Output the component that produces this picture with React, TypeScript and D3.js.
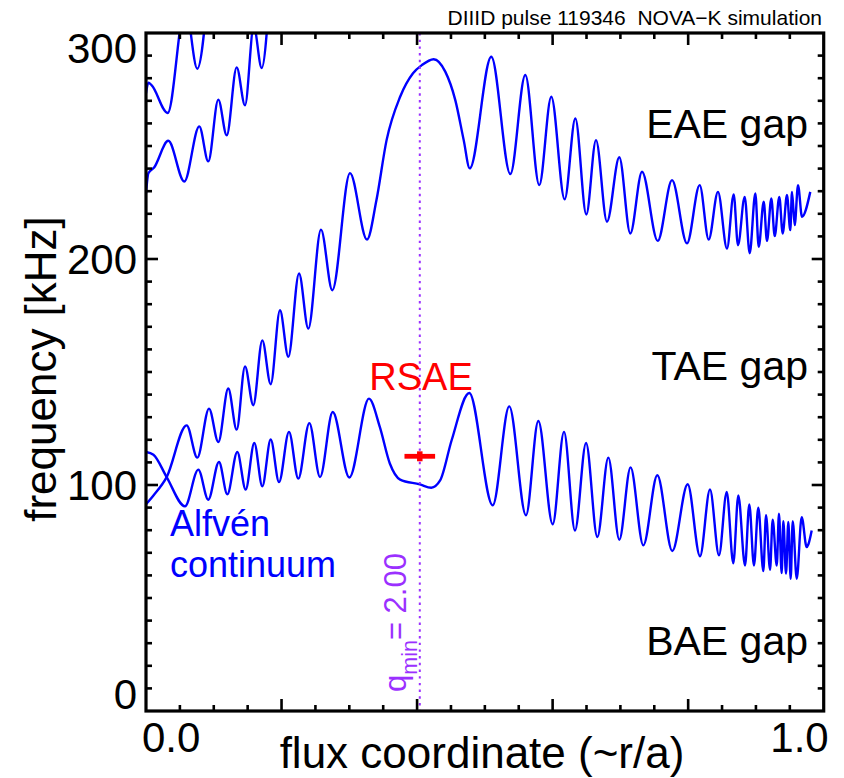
import React from "react";
import * as d3 from "d3";

const W = 844;
const H = 778;
const plot = { left: 146, right: 823.7, top: 33, bottom: 711 };
const FONT = "'Liberation Sans', Arial, Helvetica, sans-serif";

// Alfvén continuum branches, sampled at their turning points: [r/a, frequency kHz]
const lowerBranch: [number, number][] = [
  [0, 114.6], [0.011, 113.4], [0.0305, 103.5], [0.0575, 90.6], [0.0772, 106.8],
  [0.0919, 93.5], [0.1077, 110.2], [0.12, 95.9], [0.1347, 114.6], [0.1471, 98.0],
  [0.1598, 118.6], [0.1716, 99.4], [0.184, 120.1], [0.1963, 101.3], [0.211, 123.5],
  [0.2247, 102.8], [0.241, 127.4], [0.2568, 103.5], [0.2755, 132.3], [0.3, 103.3],
  [0.329, 138.2], [0.345, 125.7], [0.3598, 109.5], [0.375, 102.4], [0.404, 100.3],
  [0.421, 98.8], [0.434, 102.0], [0.451, 119.8], [0.477, 140.7], [0.5116, 91.0],
  [0.536, 134.8], [0.5607, 86.6], [0.5789, 128.3], [0.6001, 82.6], [0.6168, 123.5],
  [0.633, 79.9], [0.6493, 118.6], [0.666, 77.0], [0.6822, 112.1], [0.6984, 75.8],
  [0.715, 107.8], [0.7338, 73.3], [0.7545, 104.3], [0.7766, 70.8], [0.7993, 100.3],
  [0.8175, 68.5], [0.8322, 98.0], [0.8455, 68.9], [0.8569, 96.9], [0.8666, 65.4],
  [0.874, 95.4], [0.8839, 64.4], [0.8902, 91.4], [0.8971, 64.4], [0.9035, 90.0],
  [0.9109, 61.9], [0.9149, 86.6], [0.9208, 62.5], [0.9247, 84.7], [0.9307, 64.4],
  [0.934, 87.3], [0.938, 61.0], [0.9404, 84.0], [0.9444, 60.8], [0.9478, 83.6],
  [0.9513, 58.5], [0.9543, 84.0], [0.9602, 58.5], [0.9675, 85.8], [0.9749, 72.5],
  [0.9773, 73.7], [0.9823, 79.9],
];

const upperBranch: [number, number][] = [
  [0, 91.5], [0.011, 95.4], [0.0305, 103.5], [0.06, 126.4], [0.0757, 112.1],
  [0.093, 133.8], [0.1067, 119.0], [0.1214, 142.7], [0.1338, 124.5], [0.1461, 152.5],
  [0.1583, 135.3], [0.1716, 164.0], [0.184, 144.6], [0.1977, 177.3], [0.21, 156.7],
  [0.2258, 193.6], [0.2395, 169.2], [0.2582, 213.0], [0.2749, 186.2], [0.301, 238.0],
  [0.3261, 208.6], [0.34, 226.0], [0.355, 252.6], [0.375, 271.8], [0.394, 282.2],
  [0.407, 285.8], [0.4245, 288.4], [0.4416, 282.9], [0.4564, 270.3], [0.4688, 252.6],
  [0.4777, 240.1], [0.5095, 289.5], [0.5376, 237.6], [0.5597, 281.4], [0.5803, 232.7],
  [0.598, 271.8], [0.6178, 226.4], [0.6335, 262.2], [0.6497, 219.7], [0.664, 252.6],
  [0.6802, 216.5], [0.6984, 245.0], [0.7146, 211.3], [0.7319, 238.6], [0.7551, 208.0],
  [0.7762, 234.9], [0.7983, 206.9], [0.817, 232.7], [0.8303, 208.6], [0.844, 229.7],
  [0.8573, 204.6], [0.8672, 228.6], [0.8735, 206.1], [0.8834, 227.5], [0.8908, 202.5],
  [0.8991, 229.0], [0.9041, 205.4], [0.9115, 225.3], [0.9163, 208.0], [0.9227, 226.8],
  [0.9277, 210.1], [0.9345, 227.5], [0.9395, 211.3], [0.9458, 228.3], [0.9507, 212.8],
  [0.9532, 229.7], [0.9572, 215.0], [0.9621, 232.7], [0.968, 218.7], [0.9802, 229.7],
];

const highBranchA: [number, number][] = [
  [0, 229.0], [0.0035, 237.9], [0.012, 240.5], [0.0329, 252.3], [0.0565, 234.3],
  [0.0786, 258.7], [0.0919, 243.2], [0.1067, 270.5], [0.1191, 254.7], [0.1338, 284.8],
  [0.1461, 268.0], [0.159, 303.0], [0.1707, 284.5], [0.183, 320.0],
];

const highBranchB: [number, number][] = [
  [0, 273.3], [0.0035, 278.0], [0.0085, 276.8], [0.032, 264.6], [0.058, 312.0],
  [0.0757, 284.2], [0.092, 320.0],
];

const branches = [lowerBranch, upperBranch, highBranchA, highBranchB];

// Observed RSAE: location, frequency and error extents
const rsae = { x: 0.404, f: 112.7, xErr: 0.0226, fErr: 2.2 };
const qminLocation = 0.404;

const yTickValues = [0, 100, 200, 300];
const yTickLabels = ["0", "100", "200", "300"];
const xTickValues = [0, 1];
const xTickLabels = ["0.0", "1.0"];

const gapLabels = ["EAE gap", "TAE gap", "BAE gap"];
const gapLabelFreqs = [253.5, 146.6, 24.6];

export default function App() {
  const x = d3.scaleLinear().domain([0, 1]).range([plot.left, plot.right]);
  const y = d3.scaleLinear().domain([0, 300]).range([plot.bottom, plot.top]);

  const line = d3
    .line<[number, number]>()
    .x((d) => x(d[0]))
    .y((d) => y(d[1]))
    .curve(d3.curveMonotoneX);

  const yMinor = d3.range(10, 300, 10);
  const xMinor = d3.range(1, 20).map((i) => i / 20);

  const tickLen = (major: boolean) => (major ? 12 : 6);

  const purple = "#9b30ff";
  const blue = "#0000ff";

  return (
    <svg
      width={W}
      height={H}
      style={{ position: "absolute", left: 0, top: 0, display: "block", background: "#fff" }}
      fontFamily={FONT}
    >
      <defs>
        <clipPath id="plotClip">
          <rect x={plot.left} y={plot.top} width={plot.right - plot.left} height={plot.bottom - plot.top} />
        </clipPath>
      </defs>

      {/* continuum curves */}
      <g clipPath="url(#plotClip)" fill="none" stroke={blue} strokeWidth={2.4} strokeLinejoin="round">
        {branches.map((b, i) => (
          <path key={i} d={line(b) || ""} />
        ))}
      </g>

      {/* q_min location */}
      <line
        x1={x(qminLocation)}
        x2={x(qminLocation)}
        y1={plot.top}
        y2={plot.bottom}
        stroke={purple}
        strokeWidth={2}
        strokeDasharray="2.4 4.3"
      />

      {/* RSAE marker */}
      <g stroke="#ff0000">
        <line
          x1={x(rsae.x - rsae.xErr)}
          x2={x(rsae.x + rsae.xErr)}
          y1={y(rsae.f)}
          y2={y(rsae.f)}
          strokeWidth={4.8}
        />
        <line
          x1={x(rsae.x)}
          x2={x(rsae.x)}
          y1={y(rsae.f - rsae.fErr)}
          y2={y(rsae.f + rsae.fErr)}
          strokeWidth={5.5}
        />
      </g>

      {/* frame */}
      <rect
        x={plot.left}
        y={plot.top}
        width={plot.right - plot.left}
        height={plot.bottom - plot.top}
        fill="none"
        stroke="#000"
        strokeWidth={3.2}
      />

      {/* ticks */}
      <g stroke="#000" strokeWidth={2.6}>
        {yMinor.map((v) => {
          const L = tickLen(v % 100 === 0);
          return (
            <g key={"y" + v}>
              <line x1={plot.left} x2={plot.left + L} y1={y(v)} y2={y(v)} />
              <line x1={plot.right} x2={plot.right - L} y1={y(v)} y2={y(v)} />
            </g>
          );
        })}
        {xMinor.map((v, i) => {
          const L = tickLen((i + 1) % 4 === 0);
          return (
            <g key={"x" + i}>
              <line x1={x(v)} x2={x(v)} y1={plot.bottom} y2={plot.bottom - L} />
              <line x1={x(v)} x2={x(v)} y1={plot.top} y2={plot.top + L} />
            </g>
          );
        })}
      </g>

      {/* y tick labels, kept inside the axis span */}
      <g fontSize={42} textAnchor="end" fill="#000">
        {yTickValues.map((v, i) => {
          const base = Math.min(Math.max(y(v) + 15, plot.top + 30), plot.bottom - 2);
          return (
            <text key={v} x={137} y={base}>
              {yTickLabels[i]}
            </text>
          );
        })}
      </g>

      {/* x tick labels at the ends */}
      <g fontSize={42} fill="#000">
        {xTickValues.map((v, i) => (
          <text
            key={v}
            x={i === 0 ? x(v) - 4 : x(v) + 5}
            y={752}
            textAnchor={i === 0 ? "start" : "end"}
          >
            {xTickLabels[i]}
          </text>
        ))}
      </g>

      {/* axis titles */}
      <text x={482} y={768} fontSize={44} textAnchor="middle" fill="#000">
        flux coordinate (~r/a)
      </text>
      <text transform="translate(56,369) rotate(-90)" fontSize={44} textAnchor="middle" fill="#000">
        frequency [kHz]
      </text>

      {/* header */}
      <text x={822} y={25} fontSize={21} textAnchor="end" fill="#000" style={{ whiteSpace: "pre" }}>
        {"DIIID pulse 119346  NOVA\u2212K simulation"}
      </text>

      {/* gap labels */}
      <g fontSize={41} textAnchor="end" fill="#000">
        {gapLabels.map((t, i) => (
          <text key={t} x={808} y={y(gapLabelFreqs[i])}>
            {t}
          </text>
        ))}
      </g>

      {/* RSAE label */}
      <text x={421} y={390} fontSize={38} textAnchor="middle" fill="#ff0000">
        RSAE
      </text>

      {/* continuum label, two lines */}
      <g fontSize={36} fill={blue}>
        <text x={170} y={536}>Alfvén</text>
        <text x={170} y={577}>continuum</text>
      </g>

      {/* q_min label */}
      <text transform="translate(406,692) rotate(-90)" fontSize={31} fill={purple}>
        <tspan>q</tspan>
        <tspan fontSize={21.5} dy={11}>min</tspan>
        <tspan dy={-11}>= 2.00</tspan>
      </text>
    </svg>
  );
}
